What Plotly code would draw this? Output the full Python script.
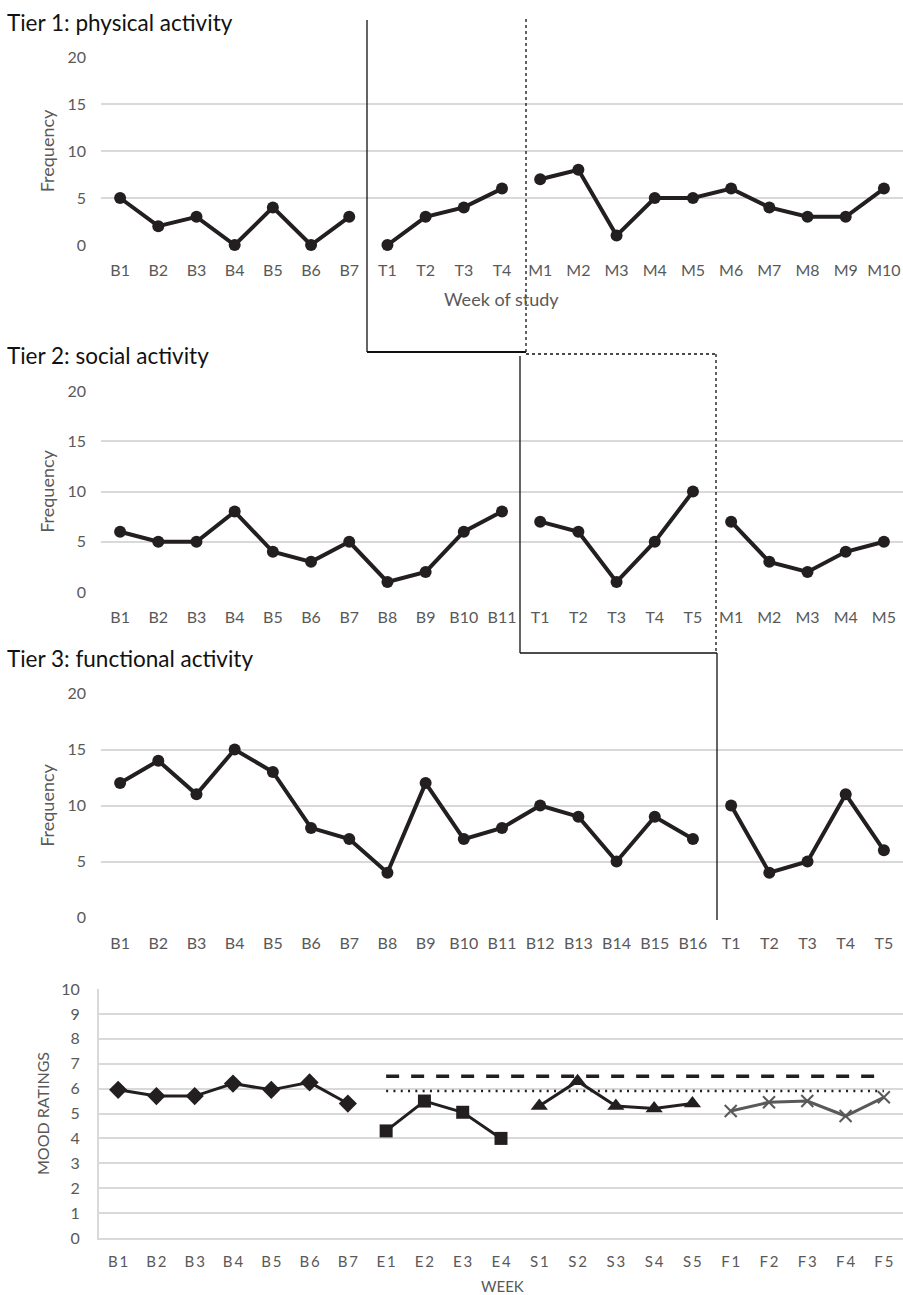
import plotly.graph_objects as go

W, H = 903, 1295

# ---------------- data ----------------
t1_base_lbl = ["B1", "B2", "B3", "B4", "B5", "B6", "B7"]
t1_base_val = [5, 2, 3, 0, 4, 0, 3]
t1_trt_lbl = ["T1", "T2", "T3", "T4"]
t1_trt_val = [0, 3, 4, 6]
t1_mnt_lbl = ["M1", "M2", "M3", "M4", "M5", "M6", "M7", "M8", "M9", "M10"]
t1_mnt_val = [7, 8, 1, 5, 5, 6, 4, 3, 3, 6]

t2_base_lbl = ["B1", "B2", "B3", "B4", "B5", "B6", "B7", "B8", "B9", "B10", "B11"]
t2_base_val = [6, 5, 5, 8, 4, 3, 5, 1, 2, 6, 8]
t2_trt_lbl = ["T1", "T2", "T3", "T4", "T5"]
t2_trt_val = [7, 6, 1, 5, 10]
t2_mnt_lbl = ["M1", "M2", "M3", "M4", "M5"]
t2_mnt_val = [7, 3, 2, 4, 5]

t3_base_lbl = ["B1", "B2", "B3", "B4", "B5", "B6", "B7", "B8", "B9", "B10",
               "B11", "B12", "B13", "B14", "B15", "B16"]
t3_base_val = [12, 14, 11, 15, 13, 8, 7, 4, 12, 7, 8, 10, 9, 5, 9, 7]
t3_trt_lbl = ["T1", "T2", "T3", "T4", "T5"]
t3_trt_val = [10, 4, 5, 11, 6]

mood_b_lbl = ["B1", "B2", "B3", "B4", "B5", "B6", "B7"]
mood_b_val = [5.95, 5.7, 5.7, 6.2, 5.95, 6.25, 5.4]
mood_e_lbl = ["E1", "E2", "E3", "E4"]
mood_e_val = [4.3, 5.5, 5.05, 4.0]
mood_s_lbl = ["S1", "S2", "S3", "S4", "S5"]
mood_s_val = [5.3, 6.3, 5.3, 5.2, 5.4]
mood_f_lbl = ["F1", "F2", "F3", "F4", "F5"]
mood_f_val = [5.1, 5.45, 5.5, 4.9, 5.65]
mood_dashed_level = 6.5
mood_dotted_level = 5.9

# ---------------- helpers ----------------
def px_x(x):
    return x / W

def px_y(y):
    return 1 - y / H

INK = "#231f20"
GREY = "#595959"
GRID = "#d9d9d9"
FONT = "Lato, 'Open Sans', sans-serif"

fig = go.Figure()

def add_line(xs, ys, xa, ya, symbol="circle", size=12, color=INK, width=4):
    fig.add_trace(go.Scatter(
        x=xs, y=ys, xaxis=xa, yaxis=ya, mode="lines+markers", cliponaxis=False,
        line=dict(color=color, width=width),
        marker=dict(symbol=symbol, size=size, color=color,
                    line=dict(width=2 if "x" in symbol else 0, color=color)),
        showlegend=False, hoverinfo="x+y"))

# Tier 1
add_line(t1_base_lbl, t1_base_val, "x", "y")
add_line(t1_trt_lbl, t1_trt_val, "x", "y")
add_line(t1_mnt_lbl, t1_mnt_val, "x", "y")
# Tier 2
add_line(t2_base_lbl, t2_base_val, "x2", "y2")
add_line(t2_trt_lbl, t2_trt_val, "x2", "y2")
add_line(t2_mnt_lbl, t2_mnt_val, "x2", "y2")
# Tier 3
add_line(t3_base_lbl, t3_base_val, "x3", "y3")
add_line(t3_trt_lbl, t3_trt_val, "x3", "y3")
# Mood
thr_lbl = mood_e_lbl + mood_s_lbl + mood_f_lbl
fig.add_trace(go.Scatter(x=thr_lbl, y=[mood_dashed_level] * len(thr_lbl), xaxis="x4", yaxis="y4",
                         mode="lines", line=dict(color=INK, width=3.5, dash="13px,12px"),
                         showlegend=False, hoverinfo="skip"))
fig.add_trace(go.Scatter(x=thr_lbl, y=[mood_dotted_level] * len(thr_lbl), xaxis="x4", yaxis="y4",
                         mode="lines", line=dict(color=INK, width=2.5, dash="2px,5.3px"),
                         showlegend=False, hoverinfo="skip"))
add_line(mood_b_lbl, mood_b_val, "x4", "y4", symbol="diamond", size=14, width=3)
add_line(mood_e_lbl, mood_e_val, "x4", "y4", symbol="square", size=13, width=3)
add_line(mood_s_lbl, mood_s_val, "x4", "y4", symbol="triangle-up", size=15, width=3)
add_line(mood_f_lbl, mood_f_val, "x4", "y4", symbol="x-thin", size=12, color="#595959", width=3)

cats1 = t1_base_lbl + t1_trt_lbl + t1_mnt_lbl
cats2 = t2_base_lbl + t2_trt_lbl + t2_mnt_lbl
cats3 = t3_base_lbl + t3_trt_lbl
cats4 = mood_b_lbl + mood_e_lbl + mood_s_lbl + mood_f_lbl

def xaxis(cats, left, anchor, spaced=False, size=16, standoff=14):
    d = dict(type="category", categoryorder="array", categoryarray=cats,
             range=[-0.5, len(cats) - 0.5], domain=[px_x(left), px_x(903)],
             anchor=anchor, showgrid=False, zeroline=False, showline=False,
             ticks="", tickfont=dict(family=FONT, size=size, color=GREY),
             ticklabelstandoff=standoff, fixedrange=True, automargin=False)
    if spaced:
        d["tickmode"] = "array"
        d["tickvals"] = cats
        d["ticktext"] = ["\u2009".join(c) for c in cats]
    return d

def yaxis(bottom, top, rng, dtick, title, anchor, title_standoff, tsize=18):
    return dict(domain=[px_y(bottom), px_y(top)], range=rng, dtick=dtick,
                anchor=anchor, showgrid=True, gridcolor=GRID, gridwidth=1.5,
                zeroline=False, showline=False, ticks="",
                tickfont=dict(family=FONT, size=16, color=GREY),
                ticklabelstandoff=14, automargin=False,
                title=dict(text=title, font=dict(family=FONT, size=tsize, color=GREY),
                           standoff=title_standoff),
                fixedrange=True)

fig.update_layout(
    width=W, height=H, margin=dict(l=0, r=0, t=0, b=0, autoexpand=False),
    paper_bgcolor="white", plot_bgcolor="white",
    xaxis=xaxis(cats1, 101, "y"),
    yaxis=yaxis(245, 57, [0, 20], 5, "Frequency", "x", 8),
    xaxis2=xaxis(cats2, 101, "y2"),
    yaxis2=yaxis(592, 391, [0, 20], 5, "Frequency", "x2", 8),
    xaxis3=xaxis(cats3, 101, "y3"),
    yaxis3=yaxis(917.5, 693.5, [0, 20], 5, "Frequency", "x3", 8),
    xaxis4=xaxis(cats4, 99, "y4", spaced=True, size=15, standoff=9),
    yaxis4=yaxis(1238, 989, [0, 10], 1, "MOOD RATINGS", "x4", 8, tsize=16),
)
fig.layout.xaxis4.showline = True
fig.layout.xaxis4.linecolor = GRID
fig.layout.xaxis4.linewidth = 2
fig.layout.yaxis4.showline = True
fig.layout.yaxis4.linecolor = GRID
fig.layout.yaxis4.linewidth = 2

# titles / axis labels
def ann(text, x, y, size, color, xanchor="left"):
    fig.add_annotation(text=text, x=px_x(x), y=px_y(y), xref="paper", yref="paper",
                       xanchor=xanchor, yanchor="middle", showarrow=False,
                       font=dict(family=FONT, size=size, color=color))

ann("Tier 1: physical activity", 5, 22, 22.5, "#111111")
ann("Tier 2: social activity", 5, 355, 22.5, "#111111")
ann("Tier 3: functional activity", 5, 658, 22.5, "#111111")
ann("Week of study", 501, 299, 18, GREY, "center")
ann("WEEK", 502, 1286, 15, GREY, "center")

# phase change lines (pixel geometry)
def seg(x0, y0, x1, y1, dash="solid", width=1.3):
    fig.add_shape(type="line", xref="paper", yref="paper",
                  x0=px_x(x0), y0=px_y(y0), x1=px_x(x1), y1=px_y(y1),
                  line=dict(color="#111111", width=width, dash=dash))

# solid path
seg(367, 20, 367, 352)
seg(367, 352, 526, 352, width=2)
seg(520, 356, 520, 653)
seg(520, 653, 717, 653)
seg(717, 653, 717, 920)
# dashed path
seg(526, 19, 526, 354, dash="3px,3px")
seg(526, 354, 716, 354, dash="3px,3px")
seg(716, 354, 716, 653, dash="3px,3px")

fig.write_html("out.html", config={"displayModeBar": False},
               post_script="document.body.style.margin='0';document.body.style.overflow='hidden';")
